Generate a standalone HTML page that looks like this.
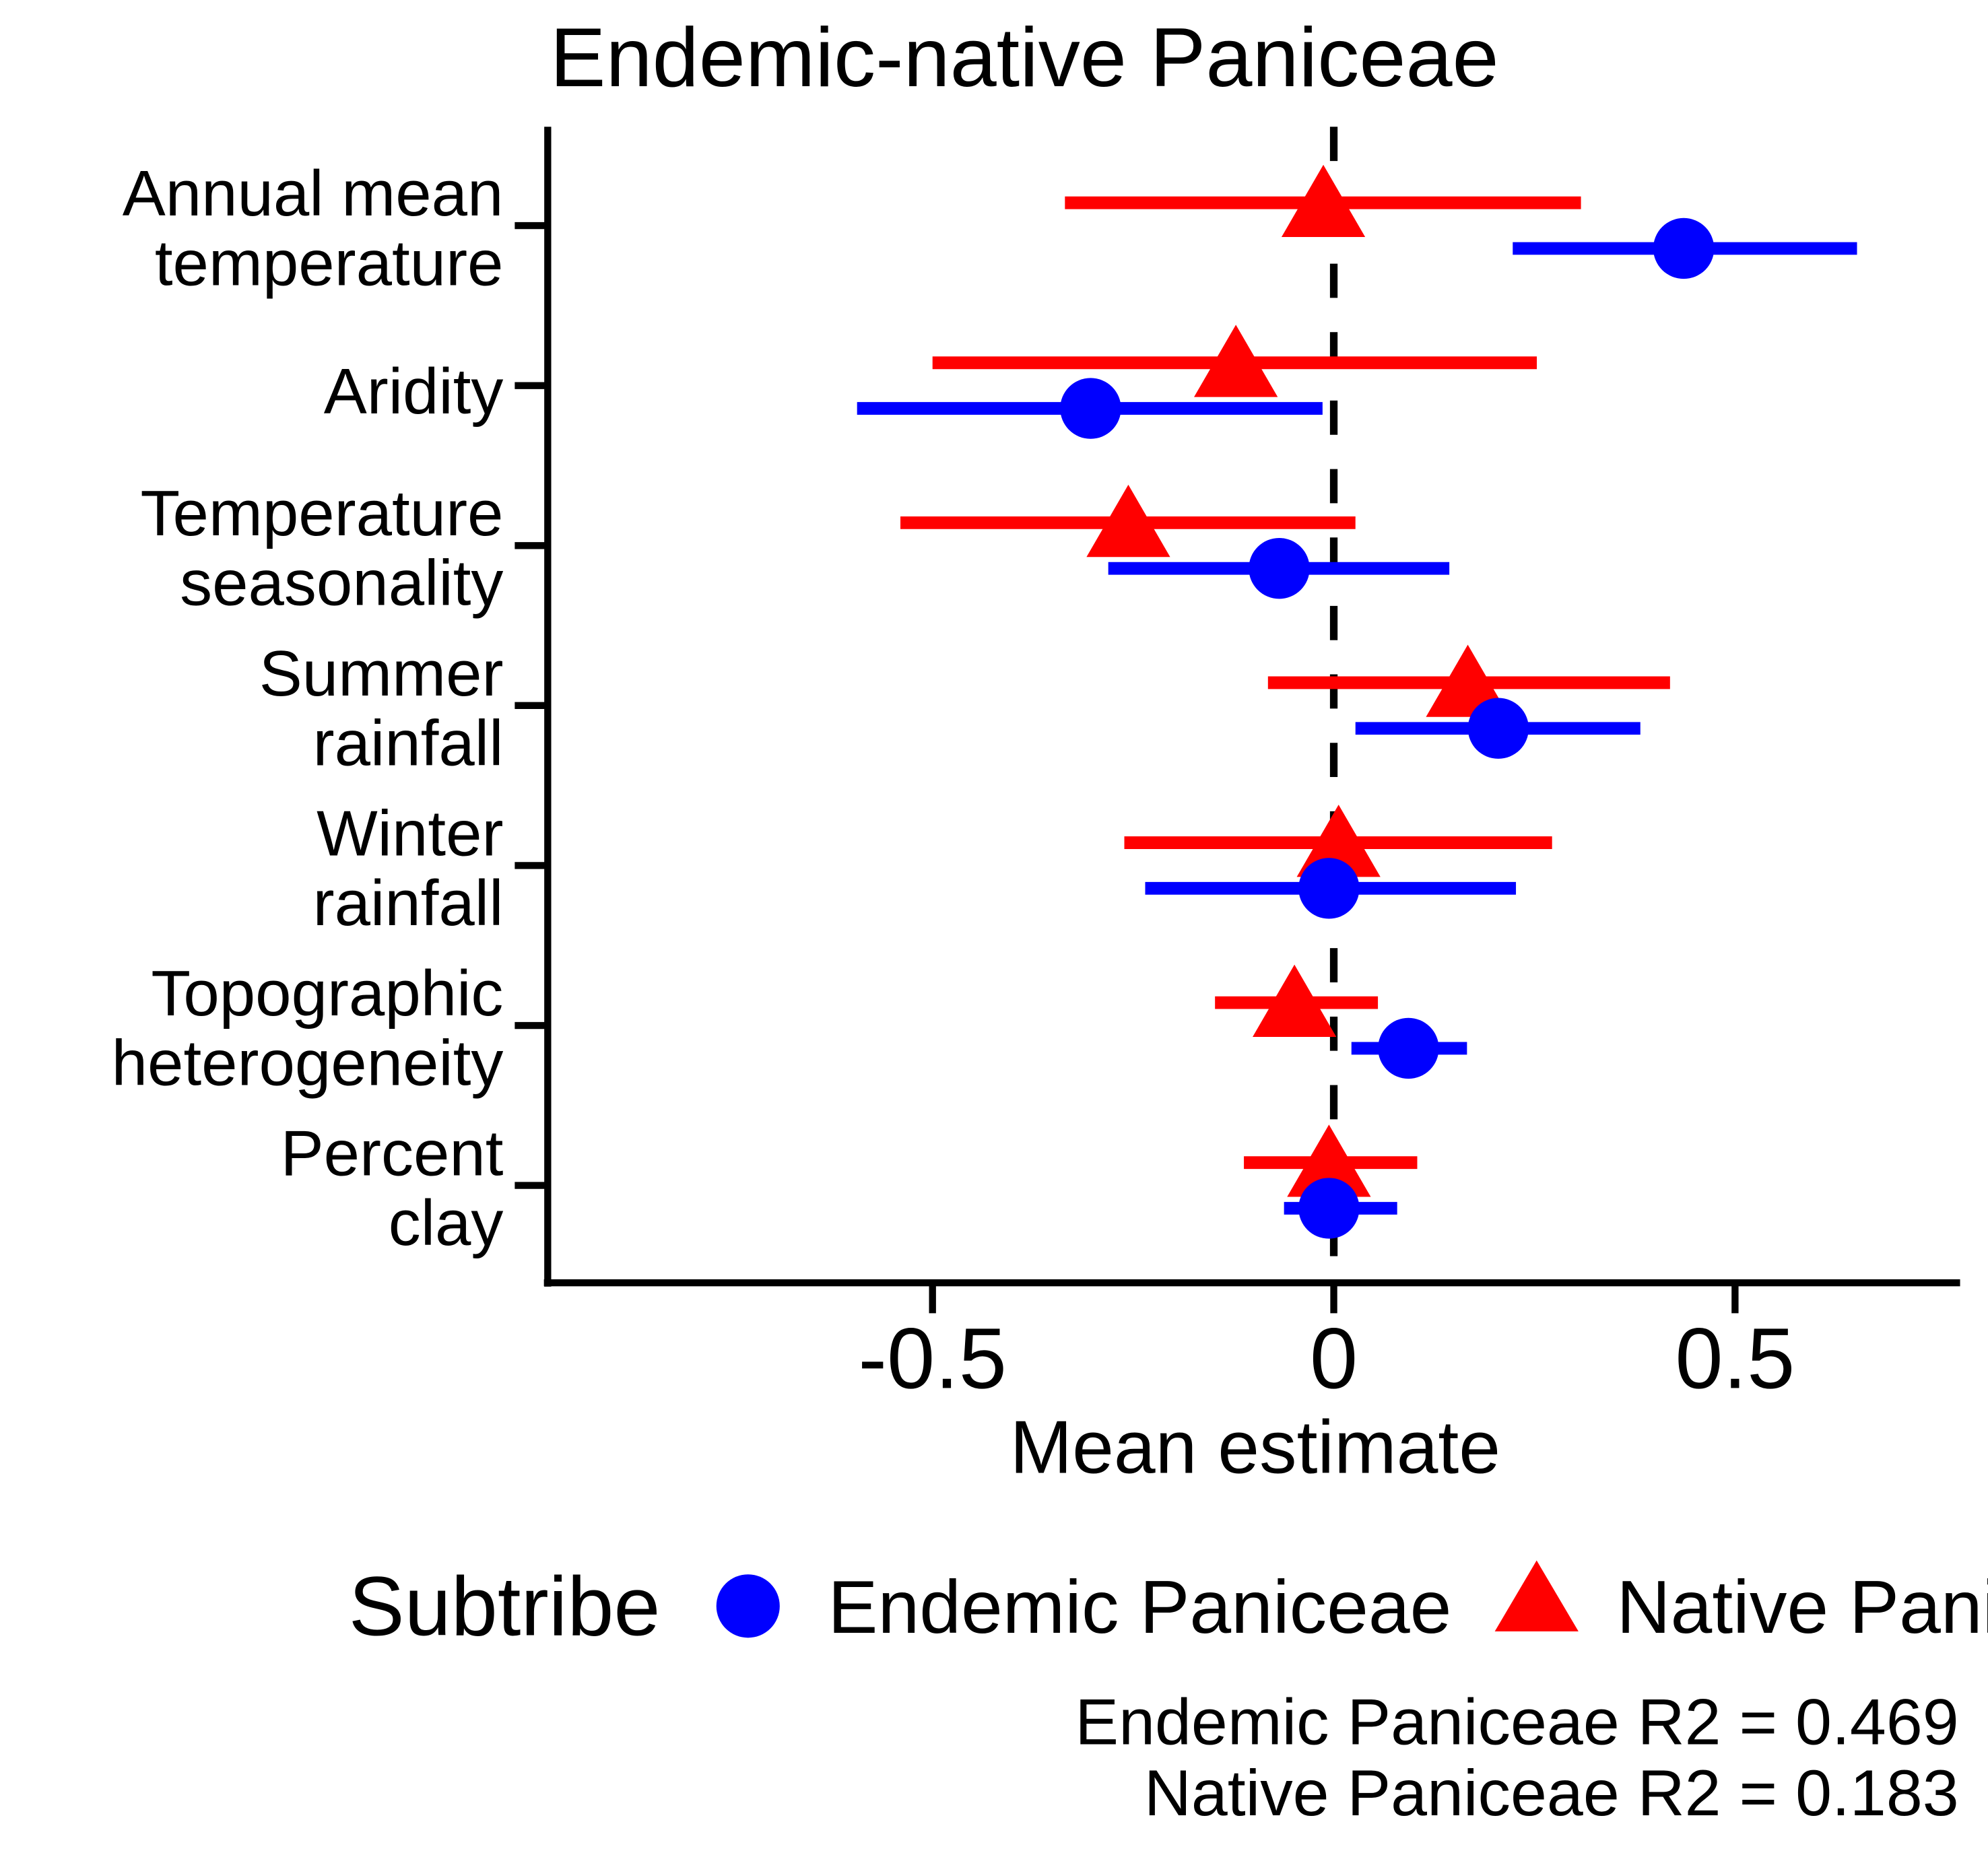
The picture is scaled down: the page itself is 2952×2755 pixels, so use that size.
<!DOCTYPE html>
<html><head><meta charset="utf-8"><style>
html,body{margin:0;padding:0;background:#fff}
svg{display:block}
text{font-family:"Liberation Sans",Arial,sans-serif;fill:#000}
</style></head><body>
<svg id="chart" width="2952" height="2755" viewBox="0 0 1568 1463.4" xmlns="http://www.w3.org/2000/svg">
<rect width="1568" height="1463.4" fill="#fff"/>
<text x="808" y="68" font-size="66" text-anchor="middle">Endemic-native Paniceae</text>
<g id="marks"></g>
<line x1="432" y1="100" x2="432" y2="1015" stroke="#000" stroke-width="5.5"/>
<line x1="429" y1="1012" x2="1546" y2="1012" stroke="#000" stroke-width="5.5"/>
<g id="axes"></g>
<text x="990" y="1162" font-size="59" text-anchor="middle">Mean estimate</text>
<text x="275" y="1290" font-size="66">Subtribe</text>
<circle cx="590" cy="1267" r="25" fill="#0000ff"/>
<text x="653" y="1288" font-size="59">Endemic Paniceae</text>
<polygon points="1212,1231 1245,1287 1179,1287" fill="#ff0000"/>
<text x="1275" y="1288" font-size="59">Native Paniceae</text>
<text x="1545" y="1376" font-size="51.5" text-anchor="end">Endemic Paniceae R2 = 0.469</text>
<text x="1545" y="1432" font-size="51.5" text-anchor="end">Native Paniceae R2 = 0.183</text>
</svg>
<script>
const categories=[["Annual mean","temperature"],["Aridity"],["Temperature","seasonality"],["Summer","rainfall"],["Winter","rainfall"],["Topographic","heterogeneity"],["Percent","clay"]];
const nativeMean=[-0.013,-0.122,-0.256,0.167,0.006,-0.049,-0.006];
const nativeLo=[-0.335,-0.5,-0.540,-0.082,-0.261,-0.148,-0.112];
const nativeHi=[0.308,0.253,0.027,0.419,0.272,0.055,0.104];
const endemicMean=[0.436,-0.303,-0.068,0.205,-0.006,0.093,-0.006];
const endemicLo=[0.223,-0.594,-0.281,0.027,-0.235,0.022,-0.062];
const endemicHi=[0.652,-0.014,0.144,0.382,0.227,0.166,0.079];
const xTicks=[-0.5,0,0.5];
const xTickLabels=["-0.5","0","0.5"];

const NS="http://www.w3.org/2000/svg";
function X(v){return 1052+v*633;}
function Y(i){return 178+i*126.2;}
function mk(tag,attrs,parent){const e=document.createElementNS(NS,tag);for(const k in attrs)e.setAttribute(k,attrs[k]);parent.appendChild(e);return e;}
const axes=document.getElementById('axes'),marks=document.getElementById('marks');

const dash=mk('line',{x1:X(0),y1:100,x2:X(0),y2:1012,stroke:'#000','stroke-width':6,'stroke-dasharray':'27 27'},marks);



xTicks.forEach((t,i)=>{
  const l=mk('line',{x1:X(t),y1:1012,x2:X(t),y2:1036,stroke:'#000','stroke-width':5.5},axes);
  
  
  const tx=mk('text',{x:X(t),y:1095,'font-size':68,'text-anchor':'middle'},axes);
  tx.textContent=xTickLabels[i];
  
  
});

categories.forEach((c,i)=>{
  const y=Y(i);
  const l=mk('line',{x1:406,y1:y,x2:432,y2:y,stroke:'#000','stroke-width':5.5},axes);
  
  
  const tx=mk('text',{x:397,'font-size':51,'text-anchor':'end'},axes);
  
  
  if(c.length===1){tx.setAttribute('y',y+22);tx.textContent=c[0];}
  else{
    tx.setAttribute('y',y-8);
    const a=mk('tspan',{x:397},tx);a.textContent=c[0];
    const b=mk('tspan',{x:397,dy:55},tx);b.textContent=c[1];
  }
  const yr=y-18;
  const rl=mk('line',{x1:X(nativeLo[i]),y1:yr,x2:X(nativeHi[i]),y2:yr,stroke:'#ff0000','stroke-width':10},marks);
  
  
  const px=X(nativeMean[i]);
  const tri=mk('polygon',{points:`${px},${yr-30} ${px+33},${yr+27} ${px-33},${yr+27}`,fill:'#ff0000'},marks);
  
  
  const yb=y+18;
  const bl=mk('line',{x1:X(endemicLo[i]),y1:yb,x2:X(endemicHi[i]),y2:yb,stroke:'#0000ff','stroke-width':10},marks);
  
  
  const ci=mk('circle',{cx:X(endemicMean[i]),cy:yb,r:24,fill:'#0000ff'},marks);
  
  
});
</script>
</body></html>
